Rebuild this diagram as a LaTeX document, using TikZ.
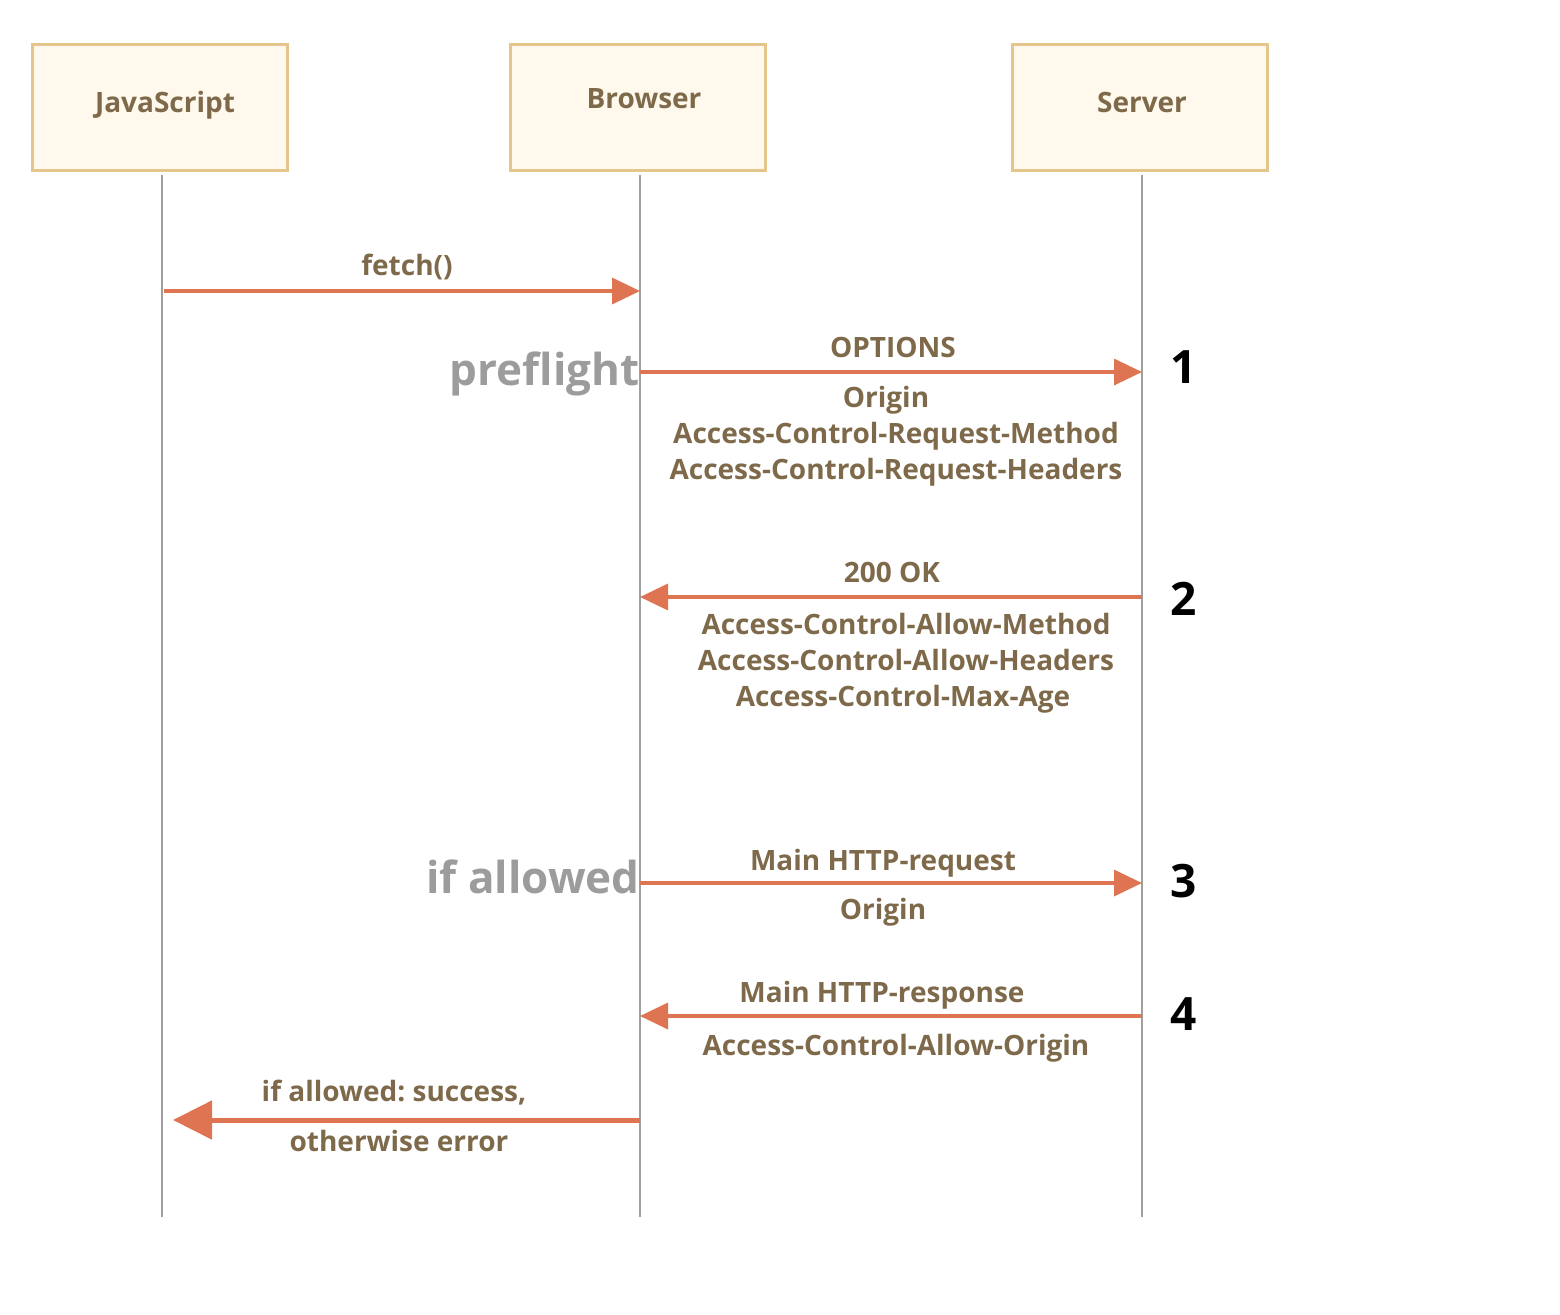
\documentclass[tikz,border=0pt]{standalone}
\usepackage{fontspec}
\setmainfont{Open Sans}
\usetikzlibrary{arrows.meta}
\definecolor{txtbrown}{HTML}{7E6A4A}
\definecolor{boxborder}{HTML}{E4C58C}
\definecolor{boxfill}{HTML}{FFF8EC}
\definecolor{lifegray}{HTML}{A0A0A0}
\definecolor{graytxt}{HTML}{9C9C9C}
\definecolor{arrowc}{HTML}{DF7452}
\frenchspacing
\begin{document}
\frenchspacing
\begin{tikzpicture}[x=0.5pt,y=-0.5pt,
  actor/.style={draw=boxborder, fill=boxfill, line width=1.75pt, minimum width=127.5pt, minimum height=63pt, inner sep=0pt},
  lbl/.style={text=txtbrown, font=\bfseries\fontsize{14}{17}\selectfont, inner sep=0pt, anchor=base},
  big/.style={text=graytxt, font=\bfseries\fontsize{22}{26}\selectfont, inner sep=0pt, anchor=base east},
  num/.style={text=black, font=\bfseries\fontsize{23}{27}\selectfont, inner sep=0pt, anchor=base},
  life/.style={draw=lifegray, line width=0.75pt},
  msg/.style={draw=arrowc, line width=1.75pt, -{Triangle[length=14pt,width=13pt]}},
  msgbig/.style={draw=arrowc, line width=2.5pt, -{Triangle[length=19.5pt,width=19pt]}},
]
\useasboundingbox (0,0) rectangle (1560,1314);

% actors
\node[actor] (jsbox) at (160,107.5) {};
\node[actor] (brbox) at (638,107.5) {};
\node[actor] (svbox) at (1140,107.5) {};
\node[lbl] (jslbl) at (165,112) {JavaScript};
\node[lbl] (brlbl) at (644,108) {Browser};
\node[lbl] (svlbl) at (1142,112) {Server};

% lifelines
\coordinate (jstop) at (162,175);
\coordinate (jsbot) at (162,1217);
\coordinate (brtop) at (640,175);
\coordinate (brbot) at (640,1217);
\coordinate (svtop) at (1142,175);
\coordinate (svbot) at (1142,1217);
\draw[life] (jstop) -- (jsbot);
\draw[life] (brtop) -- (brbot);
\draw[life] (svtop) -- (svbot);

% message anchor points
\coordinate (js0) at (164,291);
\coordinate (br0) at (640,291);
\coordinate (br1) at (640,372);
\coordinate (sv1) at (1142,372);
\coordinate (sv2) at (1142,597);
\coordinate (br2) at (640,597);
\coordinate (br3) at (640,883);
\coordinate (sv3) at (1142,883);
\coordinate (sv4) at (1142,1016);
\coordinate (br4) at (640,1016);
\coordinate (br5) at (640,1120);
\coordinate (js5) at (173,1120);

% fetch
\draw[msg] (js0) -- (br0);
\node[lbl] (fetch) at (407,275) {fetch()};

% preflight
\node[big] (pre) at (640,385) {preflight};
\draw[msg] (br1) -- (sv1);
\node[lbl] (opt) at (893,357) {OPTIONS};
\node[lbl] (orig1) at (886,407) {Origin};
\node[lbl] (acrm) at (896,443) {Access-Control-Request-Method};
\node[lbl] (acrh) at (896,479) {Access-Control-Request-Headers};
\node[num] (n1) at (1184,383) {1};

% 200 OK
\draw[msg] (sv2) -- (br2);
\node[lbl] (ok) at (892,582) {200 OK};
\node[lbl] (acam) at (906,634) {Access-Control-Allow-Method};
\node[lbl] (acah) at (906,670) {Access-Control-Allow-Headers};
\node[lbl] (acma) at (903,706) {Access-Control-Max-Age};
\node[num] (n2) at (1184,615) {2};

% main request
\node[big] (ifal) at (640,893) {if allowed};
\draw[msg] (br3) -- (sv3);
\node[lbl] (mreq) at (883,870) {Main HTTP-request};
\node[lbl] (orig2) at (883,919) {Origin};
\node[num] (n3) at (1184,897) {3};

% main response
\draw[msg] (sv4) -- (br4);
\node[lbl] (mres) at (882,1002) {Main HTTP-response};
\node[lbl] (acao) at (896,1055) {Access-Control-Allow-Origin};
\node[num] (n4) at (1184,1030) {4};

% result
\draw[msgbig] (br5) -- (js5);
\node[lbl] (succ) at (394,1101) {if allowed: success,};
\node[lbl] (err) at (399,1151) {otherwise error};
\end{tikzpicture}
\end{document}
